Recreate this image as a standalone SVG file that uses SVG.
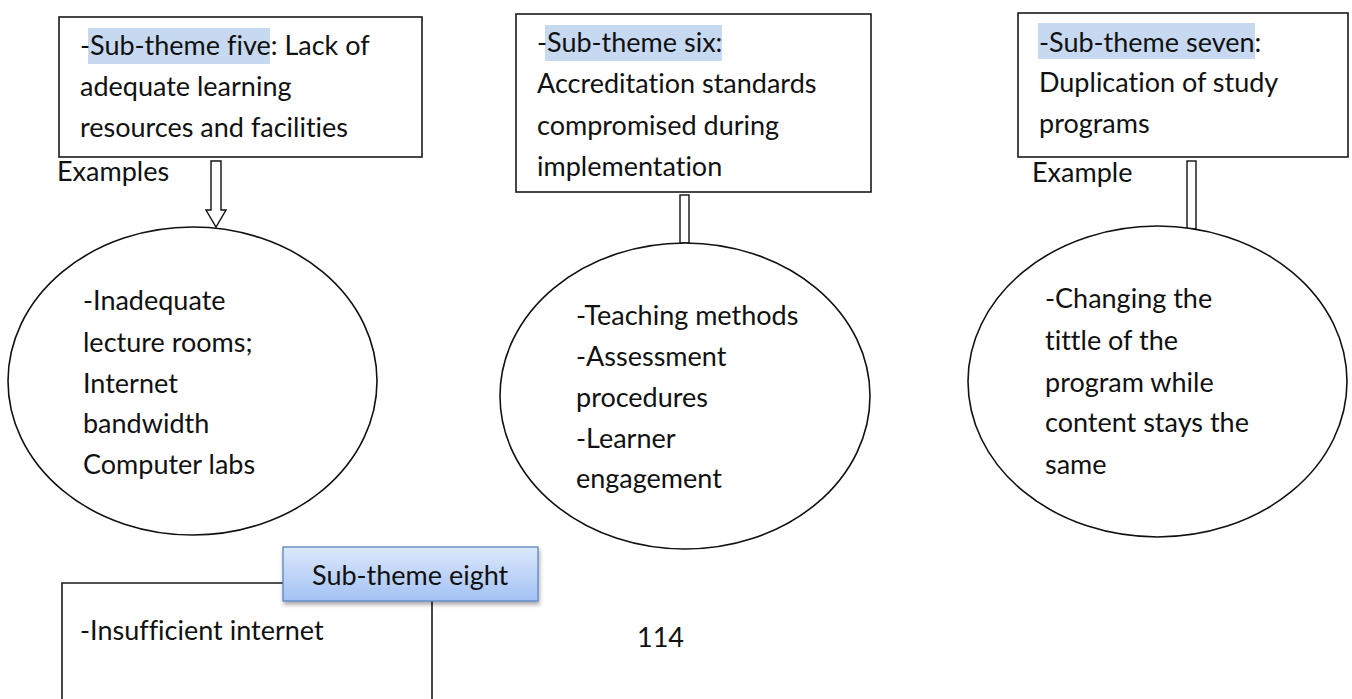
<svg xmlns="http://www.w3.org/2000/svg" width="1352" height="699" viewBox="0 0 1352 699">
  <defs>
    <linearGradient id="labelFill" x1="0" y1="0" x2="0" y2="1">
      <stop offset="0" stop-color="#dce8fc"/>
      <stop offset="1" stop-color="#a3c2f4"/>
    </linearGradient>
    <filter id="labelShadow" x="-10%" y="-20%" width="125%" height="160%">
      <feGaussianBlur in="SourceAlpha" stdDeviation="2"/>
      <feOffset dx="1" dy="3" result="b"/>
      <feComponentTransfer><feFuncA type="linear" slope="0.35"/></feComponentTransfer>
      <feMerge><feMergeNode/><feMergeNode in="SourceGraphic"/></feMerge>
    </filter>
    <style>
      .box { fill: #ffffff; stroke: #1a1a1a; stroke-width: 1.6; }
      .oval { fill: #ffffff; stroke: #111111; stroke-width: 1.6; }
      .link { fill: #ffffff; stroke: #111111; stroke-width: 1.4; }
      .hl { fill: #c6d9f1; }
      text { font-family: Lato, "Liberation Sans", sans-serif; font-size: 27px; fill: #111111; font-variant-ligatures: none; }
    </style>
  </defs>

  <rect width="1352" height="699" fill="#ffffff"/>

  <!-- connectors between the sub-theme boxes and their example ovals -->
  <g id="connectors">
    <polygon class="link" points="211,161 221,161 221,210 226,210 216,227 206,210 211,210"/>
    <rect class="link" x="680" y="195" width="9" height="48"/>
    <rect class="link" x="1187" y="161" width="9" height="68"/>
  </g>

  <!-- sub-theme five -->
  <g id="theme5">
    <rect class="box" x="59" y="17" width="363" height="140"/>
    <rect class="hl" x="88" y="28" width="182" height="36"/>
    <text x="80" y="55">-Sub-theme five: Lack of</text>
    <text x="80" y="96">adequate learning</text>
    <text x="80" y="137">resources and facilities</text>
  </g>
  <text id="label-examples" x="57" y="181">Examples</text>

  <!-- sub-theme six -->
  <g id="theme6">
    <rect class="box" x="516" y="14" width="355" height="178"/>
    <rect class="hl" x="545" y="25" width="177" height="36"/>
    <text x="537" y="52">-Sub-theme six:</text>
    <text x="537" y="93">Accreditation standards</text>
    <text x="537" y="135">compromised during</text>
    <text x="537" y="176">implementation</text>
  </g>

  <!-- sub-theme seven -->
  <g id="theme7">
    <rect class="box" x="1018" y="13" width="330" height="144"/>
    <rect class="hl" x="1038" y="23" width="217" height="36"/>
    <text x="1039" y="52">-Sub-theme seven:</text>
    <text x="1039" y="92">Duplication of study</text>
    <text x="1039" y="133">programs</text>
  </g>
  <text id="label-example" x="1032" y="182">Example</text>

  <!-- example ovals -->
  <g id="examples5">
    <ellipse class="oval" cx="192.5" cy="381" rx="184.5" ry="154"/>
    <text x="83" y="310">-Inadequate</text>
    <text x="83" y="352">lecture rooms;</text>
    <text x="83" y="393">Internet</text>
    <text x="83" y="433">bandwidth</text>
    <text x="83" y="474">Computer labs</text>
  </g>

  <g id="examples6">
    <ellipse class="oval" cx="685" cy="396" rx="185" ry="153"/>
    <text x="576" y="325">-Teaching methods</text>
    <text x="576" y="366">-Assessment</text>
    <text x="576" y="407">procedures</text>
    <text x="576" y="448">-Learner</text>
    <text x="576" y="488">engagement</text>
  </g>

  <g id="examples7">
    <ellipse class="oval" cx="1157.5" cy="381.5" rx="189.5" ry="155.5"/>
    <text x="1045" y="308">-Changing the</text>
    <text x="1045" y="350">tittle of the</text>
    <text x="1045" y="392">program while</text>
    <text x="1045" y="432">content stays the</text>
    <text x="1045" y="474">same</text>
  </g>

  <!-- sub-theme eight: open box with tab label -->
  <g id="theme8">
    <path class="box" d="M62,705 L62,583 L432,583 L432,705" fill="#ffffff"/>
    <text x="80" y="640">-Insufficient internet</text>
    <g id="theme8-label" filter="url(#labelShadow)">
      <rect x="283" y="547" width="255" height="54" fill="url(#labelFill)" stroke="#5b86c0" stroke-width="1.3"/>
    </g>
    <text x="312" y="585">Sub-theme eight</text>
  </g>

  <text id="page-number" x="637" y="647">114</text>
</svg>
